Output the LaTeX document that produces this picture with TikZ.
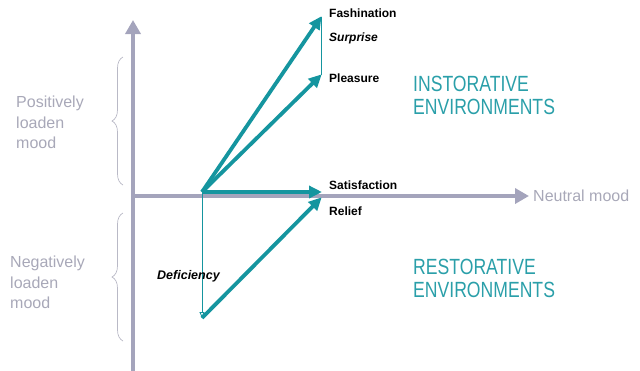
\documentclass[tikz,border=0pt]{standalone}
\usepackage{fontspec}
\setmainfont{Liberation Sans}
\newfontfamily\envfont[FakeStretch=0.8]{Liberation Sans}
\usetikzlibrary{arrows.meta,decorations.pathreplacing}
\definecolor{axisgray}{HTML}{A4A4BC}
\definecolor{labgray}{HTML}{A8A8B8}
\definecolor{teal}{HTML}{15959F}
\definecolor{envteal}{HTML}{2A9FA9}
\tikzset{
  axis/.style={line width=4.5pt,draw=axisgray,-{Triangle[length=14pt,width=15pt]}},
  vec/.style={line width=3.8pt,draw=teal,-{Triangle[length=13pt,width=12pt]},shorten >=-1pt},
  thinvec/.style={line width=0.9pt,draw=teal},
  brc/.style={draw=labgray!80,line width=0.7pt,decorate,decoration={brace,amplitude=11pt}},
  lbl/.style={font=\bfseries\fontsize{12}{13}\selectfont,inner sep=0pt,anchor=west},
  ilbl/.style={font=\bfseries\itshape\fontsize{12}{13}\selectfont,inner sep=0pt,anchor=west},
  graylbl/.style={font=\fontsize{16}{20.5}\selectfont,text=labgray,align=left,inner sep=0pt,anchor=north west},
  envlbl/.style={font=\envfont\fontsize{22}{23}\selectfont,text=envteal,align=left,inner sep=0pt,anchor=north west},
}
\begin{document}
\begin{tikzpicture}[x=1pt,y=-1pt]
\useasboundingbox (0,0) rectangle (640,370);
% axes
\coordinate (yb) at (133,372);
\coordinate (yt) at (133,20);
\coordinate (xl) at (131,196);
\coordinate (xr) at (529,196);
\draw[axis] (yb) -- (yt);
\draw[axis] (xl) -- (xr);
\node[anchor=west,inner sep=0pt,text=labgray,font=\fontsize{16}{18}\selectfont] (neutral) at (533,196) {Neutral mood};
% vectors
\coordinate (O) at (202,192);
\coordinate (F) at (321,17);
\coordinate (P) at (321,75);
\coordinate (S) at (321,192);
\coordinate (D) at (202,318);
\coordinate (R) at (321,198);
\draw[thinvec] (P) -- (F);
\draw[thinvec,-{Triangle[length=6pt,width=5pt,open]}] (O) -- (D);
\draw[vec] (O) -- (F);
\draw[vec] (O) -- (P);
\draw[vec] (O) -- (S);
\draw[vec] (D) -- (R);
% labels
\node[lbl] (fash) at (329,13) {Fashination};
\node[ilbl] (surp) at (329,38) {Surprise};
\node[lbl] (plea) at (329,78) {Pleasure};
\node[lbl] (sat) at (329,185) {Satisfaction};
\node[lbl] (rel) at (329,211) {Relief};
\node[ilbl,font=\bfseries\itshape\fontsize{12.5}{13}\selectfont] (def) at (157,276) {Deficiency};
% braces
\coordinate (b1a) at (123,185);
\coordinate (b1b) at (123,57);
\coordinate (b2a) at (123,341);
\coordinate (b2b) at (123,213);
\draw[brc] (b1a) -- (b1b);
\draw[brc] (b2a) -- (b2b);
\node[graylbl] (pos) at (16,96) {Positively\\loaden\\mood};
\node[graylbl] (neg) at (10,256) {Negatively\\loaden\\mood};
% environments
\node[envlbl] (inst) at (413,76) {INSTORATIVE\\ENVIRONMENTS};
\node[envlbl] (rest) at (413,259) {RESTORATIVE\\ENVIRONMENTS};
\end{tikzpicture}
\end{document}
